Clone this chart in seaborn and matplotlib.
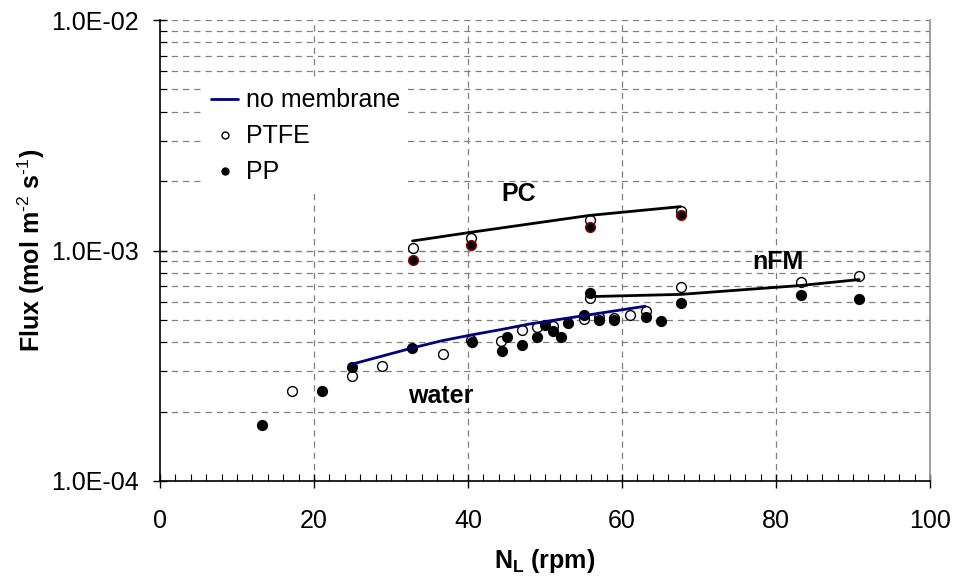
import numpy as np
import pandas as pd
import matplotlib
matplotlib.use("Agg")
import matplotlib.pyplot as plt
from matplotlib.lines import Line2D
from matplotlib.ticker import FixedLocator, FuncFormatter, MultipleLocator, NullFormatter
import seaborn as sns

# ---- data: flux (mol m-2 s-1) versus stirring speed N_L (rpm) ----
# water, measured with PTFE and PP membranes
water_ptfe_n = [17.2, 24.9, 28.8, 36.7, 40.4, 44.3, 47.0, 49.0, 51.0, 55.1, 57.0, 59.0, 61.0, 63.1]
water_ptfe_f = [2.45e-4, 2.85e-4, 3.15e-4, 3.56e-4, 4.08e-4, 4.06e-4, 4.54e-4, 4.68e-4, 4.69e-4,
                5.04e-4, 5.16e-4, 5.12e-4, 5.27e-4, 5.45e-4]
water_pp_n = [13.3, 21.0, 24.9, 32.7, 40.5, 44.4, 45.0, 47.0, 49.0, 50.0, 51.0, 52.1, 53.0,
              55.1, 57.0, 59.0, 63.1, 65.1]
water_pp_f = [1.75e-4, 2.45e-4, 3.13e-4, 3.78e-4, 3.99e-4, 3.65e-4, 4.23e-4, 3.88e-4, 4.23e-4,
              4.75e-4, 4.46e-4, 4.23e-4, 4.85e-4, 5.25e-4, 4.97e-4, 5.01e-4, 5.13e-4, 4.93e-4]
# water without membrane
water_nomem_n = [24.9, 32.8, 36.6, 40.4, 44.3, 48.0, 55.1, 63.0]
water_nomem_f = [3.21e-4, 3.78e-4, 4.06e-4, 4.30e-4, 4.54e-4, 4.80e-4, 5.22e-4, 5.73e-4]

# PC
pc_n = [32.8, 40.4, 55.8, 67.6]
pc_ptfe_f = [1.03e-3, 1.13e-3, 1.35e-3, 1.49e-3]
pc_pp_f = [9.1e-4, 1.055e-3, 1.26e-3, 1.42e-3]
pc_nomem_f = [1.10e-3, 1.20e-3, 1.42e-3, 1.55e-3]

# nFM
nfm_n = [55.9, 67.6, 83.2, 90.8]
nfm_ptfe_f = [6.21e-4, 6.92e-4, 7.28e-4, 7.78e-4]
nfm_pp_f = [6.52e-4, 5.90e-4, 6.41e-4, 6.14e-4]
nfm_nomem_f = [6.31e-4, 6.45e-4, 7.05e-4, 7.48e-4]

y_ticks = [1e-4, 1e-3, 1e-2]
y_tick_labels = ["1.0E-04", "1.0E-03", "1.0E-02"]
x_ticks = [0, 20, 40, 60, 80, 100]

# ---- style ----
sns.set_theme(style="white")
plt.rcParams["font.family"] = ["Liberation Sans", "DejaVu Sans"]
plt.rcParams["mathtext.fontset"] = "custom"
plt.rcParams["mathtext.rm"] = "Liberation Sans"
plt.rcParams["mathtext.bf"] = "Liberation Sans:bold"
for key in ["text.color", "axes.labelcolor", "xtick.color", "ytick.color"]:
    plt.rcParams[key] = "black"

FS = 18
GRID = dict(color="#808080", linestyle=(0, (5, 4)), linewidth=0.9)

fig = plt.figure(figsize=(9.56, 5.76), dpi=100)
ax = fig.add_axes([160 / 956, 1 - 481 / 576, 770 / 956, 461 / 576])

ax.set_yscale("log")
ax.set_xlim(0, 100)
ax.set_ylim(1e-4, 1e-2)

# grid: vertical at major x, horizontal at every decade step
for xv in x_ticks[1:]:
    ax.axvline(xv, zorder=0.5, **GRID)
for dec in [1e-4, 1e-3]:
    for m in range(1, 11):
        yv = m * dec
        if 1e-4 < yv <= 1e-2:
            ax.axhline(yv, zorder=0.5, **GRID)

def scatter(n, f, face, edge, size=50, lw=1.0):
    df = pd.DataFrame({"N": n, "F": f})
    sns.scatterplot(data=df, x="N", y="F", ax=ax, marker="o", s=size,
                    color=face, edgecolor=edge, linewidth=lw, zorder=3, legend=False)

def line(n, f, color):
    df = pd.DataFrame({"N": n, "F": f})
    sns.lineplot(data=df, x="N", y="F", ax=ax, color=color, linewidth=2.0,
                 estimator=None, sort=False, zorder=4, legend=False)

# water
scatter(water_ptfe_n, water_ptfe_f, "white", "black")
scatter(water_pp_n, water_pp_f, "black", "black")
line(water_nomem_n, water_nomem_f, "#000080")
# PC
scatter(pc_n, pc_ptfe_f, "white", "black")
scatter(pc_n, pc_pp_f, "black", "#990000")
line(pc_n, pc_nomem_f, "black")
# nFM
scatter(nfm_n, nfm_ptfe_f, "white", "black")
scatter(nfm_n, nfm_pp_f, "black", "black")
line(nfm_n, nfm_nomem_f, "black")

# labels on the curves
ax.text(46.6, 1.75e-3, "PC", fontsize=FS, fontweight="bold", ha="center", va="center", zorder=5)
ax.text(80.3, 8.95e-4, "nFM", fontsize=FS, fontweight="bold", ha="center", va="center", zorder=5)
ax.text(36.4, 2.34e-4, "water", fontsize=FS, fontweight="bold", ha="center", va="center", zorder=5)

# axes, ticks
ax.xaxis.set_major_locator(FixedLocator(x_ticks))
ax.xaxis.set_minor_locator(MultipleLocator(2))
ax.yaxis.set_major_locator(FixedLocator(y_ticks))
ax.yaxis.set_major_formatter(FuncFormatter(lambda v, p: y_tick_labels[y_ticks.index(v)] if v in y_ticks else ""))
minor_y = [m * d for d in [1e-4, 1e-3] for m in range(2, 10)]
ax.yaxis.set_minor_locator(FixedLocator(minor_y))
ax.yaxis.set_minor_formatter(NullFormatter())

ax.tick_params(axis="both", which="major", direction="inout", length=10, width=1,
               color="black", labelcolor="black", labelsize=FS)
ax.tick_params(axis="x", which="major", pad=15)
ax.tick_params(axis="y", which="major", pad=10)
ax.tick_params(axis="both", which="minor", direction="in", length=5, width=0.8, color="black")
ax.tick_params(axis="y", which="both", left=True, right=False)
ax.tick_params(axis="x", which="both", bottom=True, top=False)

for side in ["left", "bottom"]:
    ax.spines[side].set_color("black")
    ax.spines[side].set_linewidth(1.2)
ax.spines["top"].set_visible(False)
ax.spines["right"].set_color("#909090")
ax.spines["right"].set_linewidth(1.2)

ax.set_xlabel(r"N$_\mathbf{L}$ (rpm)", fontsize=FS, fontweight="bold", labelpad=10, color="black")
ax.set_ylabel(r"Flux (mol m$^{\text{-2}}$ s$^{\text{-1}}$)", fontsize=FS, fontweight="bold",
              labelpad=3, color="black")

handles = [
    Line2D([], [], color="#000080", linewidth=2.0, label="no membrane"),
    Line2D([], [], marker="o", linestyle="none", markerfacecolor="white",
           markeredgecolor="black", markersize=5, label="PTFE"),
    Line2D([], [], marker="o", linestyle="none", markerfacecolor="black",
           markeredgecolor="black", markersize=5, label="PP"),
]
leg = ax.legend(handles=handles, loc="upper left", bbox_to_anchor=(0.04, 0.895),
                fontsize=FS, frameon=True, facecolor="white", edgecolor="none", framealpha=1,
                handlelength=1.1, handletextpad=0.3, borderpad=0.3, labelspacing=0.48,
                fancybox=False)
for t in leg.get_texts():
    t.set_color("black")
leg.set_zorder(6)

fig.savefig("out.png", dpi=100)
